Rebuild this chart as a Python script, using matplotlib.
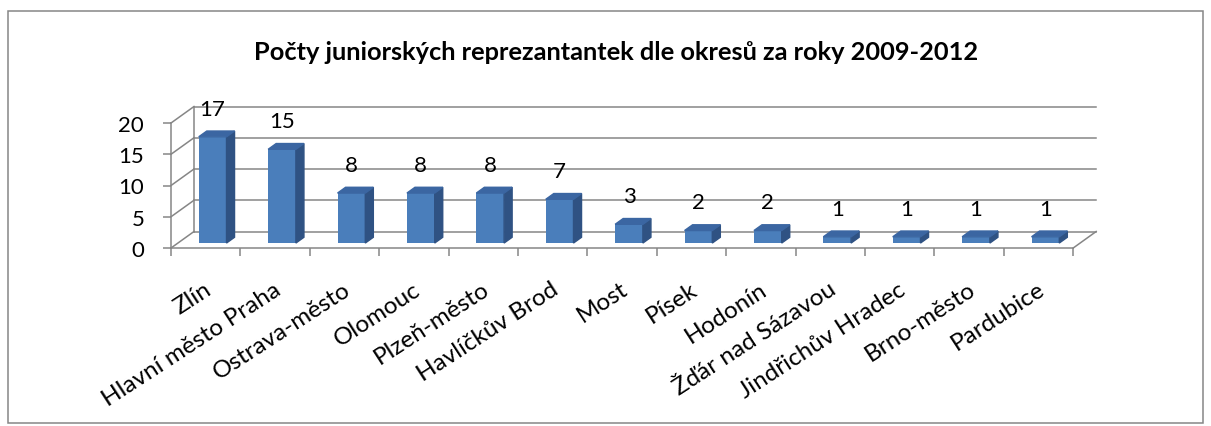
import matplotlib
matplotlib.use("Agg")
import matplotlib.pyplot as plt
import matplotlib.transforms as mtransforms
from matplotlib.patches import Polygon, Rectangle

plt.rcParams['font.family'] = ['Lato', 'DejaVu Sans']

# data
districts = ['Zlín', 'Hlavní město Praha', 'Ostrava-město', 'Olomouc', 'Plzeň-město',
             'Havlíčkův Brod', 'Most', 'Písek', 'Hodonín', 'Žďár nad Sázavou',
             'Jindřichův Hradec', 'Brno-město', 'Pardubice']
counts = [17, 15, 8, 8, 8, 7, 3, 2, 2, 1, 1, 1, 1]
yticks = [0, 5, 10, 15, 20]
title = 'Počty juniorských reprezantantek dle okresů za roky 2009-2012'

# fake 3d geometry (data units)
dx, dy = 0.331, 2.64      # depth of the floor
f = 0.30                  # bar front plane, fraction of depth
d = 0.35                  # bar depth, fraction of depth
w = 0.40                  # bar width
grid_c = '#868686'
front_c, side_c, top_c = '#4A7EBB', '#2F5283', '#3B66A2'

W, H = 1211, 427
fig = plt.figure(figsize=(W / 100, H / 100), dpi=100)
fig.patches.append(Rectangle((8 / W, 3 / H), 1195 / W, (H - 15) / H, transform=fig.transFigure,
                             fill=False, ec=grid_c, lw=1.1))

ax = fig.add_axes([150 / W, 1 - 265 / H, 960 / W, 170 / H])
n = len(counts)
ax.set_xlim(-0.303, 13.53)
ax.set_ylim(-2.56, 24.64)

# walls / grid
for v in yticks:
    ax.plot([0, dx], [v, v + dy], color=grid_c, lw=1.1, zorder=1)
    ax.plot([dx, n + dx], [v + dy, v + dy], color=grid_c, lw=1.1, zorder=1)
ax.plot([dx, dx], [dy, yticks[-1] + dy], color=grid_c, lw=1.1, zorder=1)
ax.plot([n, n + dx], [0, dy], color=grid_c, lw=1.1, zorder=1)

# bars
xs = [i + 0.5 + f * dx for i in range(n)]
ax.bar(xs, counts, width=w, bottom=f * dy, color=front_c, zorder=3)
for x, v in zip(xs, counts):
    x0, x1 = x - w / 2, x + w / 2
    y0, y1 = f * dy, v + f * dy
    ax.add_patch(Polygon([(x1, y0), (x1 + d * dx, y0 + d * dy), (x1 + d * dx, y1 + d * dy), (x1, y1)],
                         closed=True, color=side_c, zorder=3))
    ax.add_patch(Polygon([(x0, y1), (x1, y1), (x1 + d * dx, y1 + d * dy), (x0 + d * dx, y1 + d * dy)],
                         closed=True, color=top_c, zorder=3))
    ax.annotate(str(v), (x, y1), xytext=(0, 13), textcoords='offset points',
                ha='center', va='bottom', fontsize=16, zorder=4)

# axes
for s in ['top', 'right']:
    ax.spines[s].set_visible(False)
ax.spines['left'].set_position(('data', 0))
ax.spines['left'].set_bounds(0, yticks[-1])
ax.spines['bottom'].set_position(('data', 0))
ax.spines['bottom'].set_bounds(0, n)
for s in ['left', 'bottom']:
    ax.spines[s].set_color(grid_c)
    ax.spines[s].set_linewidth(1.1)
ax.patch.set_visible(False)

ax.set_yticks(yticks)
ax.set_yticklabels([str(t) for t in yticks], fontsize=16)
ax.tick_params(axis='y', length=5.8, color=grid_c, width=1.1, pad=13.5)

ax.set_xticks(range(n + 1))
ax.set_xticklabels([])
ax.tick_params(axis='x', which='major', length=5.8, color=grid_c, width=1.1)
ax.set_xticks([i + 0.5 for i in range(n)], minor=True)
ax.set_xticklabels(districts, minor=True, rotation=33, ha='right', va='center',
                   rotation_mode='anchor', fontsize=17.5)
ax.tick_params(axis='x', which='minor', length=0, pad=28)
shift = mtransforms.ScaledTranslation(4 / 100, 0, fig.dpi_scale_trans)
for lbl in ax.get_xticklabels(minor=True):
    lbl.set_transform(lbl.get_transform() + shift)

fig.text(616 / W, 1 - 52 / H, title, ha='center', va='center', fontsize=18.3, fontweight='bold')

fig.savefig('out.png', dpi=100)
